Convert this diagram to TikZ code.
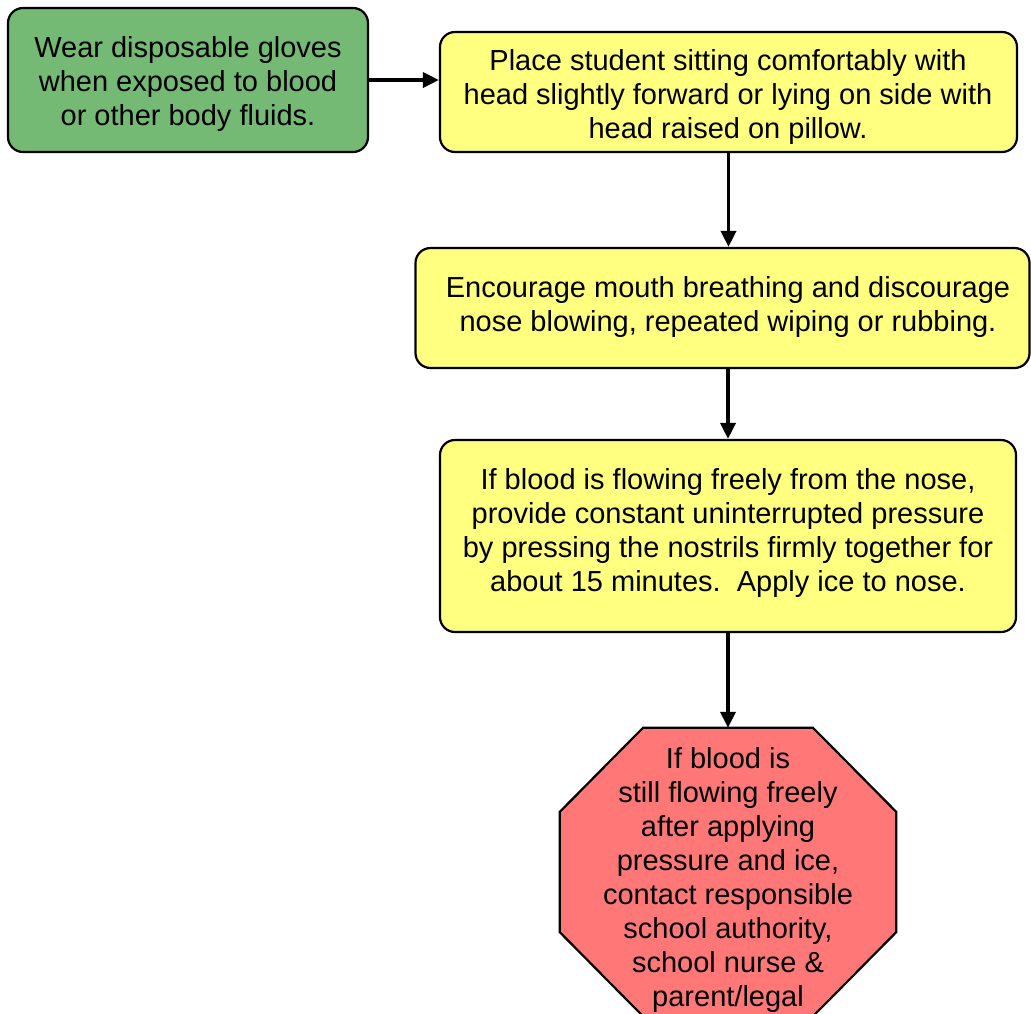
\documentclass[tikz,border=0pt]{standalone}
\usepackage{fontspec}
\setmainfont{Liberation Sans}
\usetikzlibrary{arrows.meta}
\definecolor{gfill}{RGB}{116,185,116}
\definecolor{yfill}{RGB}{255,255,128}
\definecolor{rfill}{RGB}{255,119,119}
\tikzset{
  box/.style={draw=black, line width=2.2pt, rounded corners=15pt, inner sep=0pt},
  txt/.style={align=center, font=\fontsize{29}{34}\selectfont, inner sep=0pt},
  conn/.style={line width=3.6pt, -{Triangle[length=16pt,width=15pt]}}
}
\begin{document}
\begin{tikzpicture}[x=1pt,y=1pt]
\useasboundingbox (0,0) rectangle (1031,-1013);
\clip (0,0) rectangle (1031,-1013);
% green box
\node[box, fill=gfill, minimum width=360pt, minimum height=144pt] (g) at (188,-80) {};
\node[txt] (gt) at (188,-84) {Wear disposable gloves\\when exposed to blood\\or other body fluids.};
% yellow 1
\node[box, fill=yfill, minimum width=577pt, minimum height=120pt] (b1) at (728.5,-92) {};
\node[txt] (b1t) at (728,-97) {Place student sitting comfortably with\\head slightly forward or lying on side with\\head raised on pillow.};
% yellow 2
\node[box, fill=yfill, minimum width=614pt, minimum height=120pt] (b2) at (722.5,-308) {};
\node[txt] (b2t) at (728,-307) {Encourage mouth breathing and discourage\\nose blowing, repeated wiping or rubbing.};
% yellow 3
\node[box, fill=yfill, minimum width=576pt, minimum height=192pt] (b3) at (728,-536) {};
\node[txt] (b3t) at (728,-533) {If blood is flowing freely from the nose,\\provide constant uninterrupted pressure\\by pressing the nostrils firmly together for\\about 15 minutes.\ \ Apply ice to nose.};
% octagon
\node[inner sep=0pt, minimum width=336pt, minimum height=288pt] (oct) at (728,-872) {};
\draw[line width=2.2pt, fill=rfill, line join=miter]
  ([xshift=-85pt]oct.north) -- ([xshift=85pt]oct.north) -- ([yshift=-84pt]oct.north east)
  -- ([yshift=84pt]oct.south east) -- ([xshift=85pt]oct.south) -- ([xshift=-85pt]oct.south)
  -- ([yshift=84pt]oct.south west) -- ([yshift=-84pt]oct.north west) -- cycle;
\node[txt] (octt) at (728,-880) {If blood is\\still flowing freely\\after applying\\pressure and ice,\\contact responsible\\school authority,\\school nurse \&\\parent/legal};
% connectors
\draw[conn] (g.east) -- (g.east -| b1.west);
\draw[conn] (b1.south) -- (b1.south |- b2.north);
\draw[conn] (b2.south -| b3.north) -- (b3.north);
\draw[conn] (b3.south) -- (oct.north);
\end{tikzpicture}
\end{document}
